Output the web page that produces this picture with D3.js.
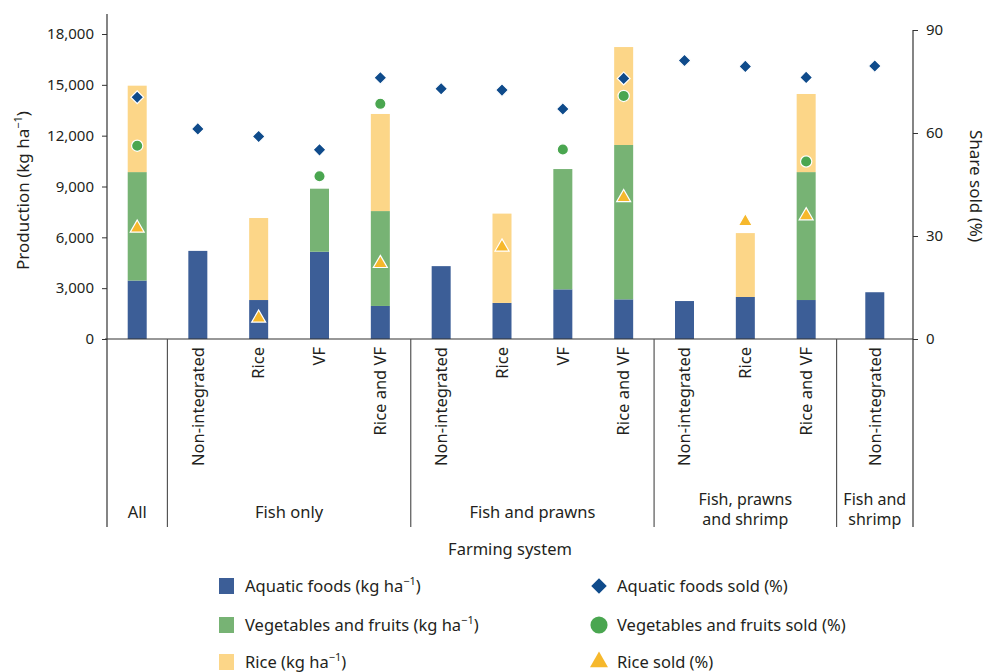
<!DOCTYPE html>
<html>
<head>
<meta charset="utf-8">
<script src="https://cdn.jsdelivr.net/npm/d3@7"></script>
<style>
  body { margin: 0; background: #fff; }
  svg { font-family: "Noto Sans", sans-serif; }
</style>
</head>
<body>
<svg width="987" height="672"></svg>
<script>
// group names (bottom row) and farming systems (rotated labels)
const groups = ['All', 'Fish only', 'Fish and prawns', 'Fish, prawns|and shrimp', 'Fish and|shrimp']
const systems = ['', 'Non-integrated', 'Rice', 'VF', 'Rice and VF',
  'Non-integrated', 'Rice', 'VF', 'Rice and VF',
  'Non-integrated', 'Rice', 'Rice and VF',
  'Non-integrated']
const groupOf = [0, 1, 1, 1, 1, 2, 2, 2, 2, 3, 3, 3, 4]

// production, kg per ha (stacked segments)
const aquatic = [3450, 5200, 2300, 5150, 1950, 4300, 2130, 2930, 2340, 2240, 2480, 2300, 2760]
const vegFruit = [6400, 0, 0, 3720, 5600, 0, 0, 7100, 9110, 0, 0, 7550, 0]
const rice = [5100, 0, 4840, 0, 5730, 0, 5270, 0, 5780, 0, 3770, 4610, 0]

// share sold, %
const aquaticSold = [70.4, 61.2, 59.0, 55.1, 76.1, 72.9, 72.5, 67.0, 75.9, 81.1, 79.4, 76.2, 79.5]
const vegSold = [56.3, null, null, 47.4, 68.5, null, null, 55.2, 70.8, null, null, 51.7, null]
const riceSold = [32.3, null, 6.1, null, 22.0, null, 26.8, null, 41.2, null, 34.2, 35.9, null]

const leftTicks = [0, 3000, 6000, 9000, 12000, 15000, 18000]
const rightTicks = [0, 30, 60, 90]

const colors = { aquatic: '#3c5e97', vegFruit: '#77b374', rice: '#fcd688' }
const markColors = { aquatic: '#0f4b8b', veg: '#4aa650', rice: '#f6b82c' }

const svg = d3.select('svg')
const textColor = '#231f20'

const ids = systems.map((s, i) => i)
const x = d3.scalePoint().domain(ids).range([137, 867])
const yL = d3.scaleLinear().domain([0, 18000]).range([339, 34])
const yR = d3.scaleLinear().domain([0, 90]).range([339, 30])

const axisLeftX = 107
const axisRightX = 913
const bottomY = 527

// group separators: midpoint between neighbouring bars of different groups
const seps = [axisLeftX]
for (let i = 1; i < ids.length; i++) {
  if (groupOf[i] !== groupOf[i - 1]) seps.push((x(i - 1) + x(i)) / 2)
}
seps.push(axisRightX)

// single-bar groups are centred in their cell
const counts = groups.map((g, gi) => groupOf.filter(d => d === gi).length)
const xPos = ids.map(i => {
  const g = groupOf[i]
  return counts[g] === 1 ? (seps[g] + seps[g + 1]) / 2 : x(i)
})

const table = ids.map(i => ({ i, aquatic: aquatic[i], vegFruit: vegFruit[i], rice: rice[i] }))
const stacked = d3.stack().keys(['aquatic', 'vegFruit', 'rice'])(table)

const barW = 19
svg.append('g')
  .selectAll('g')
  .data(stacked)
  .join('g')
  .attr('fill', d => colors[d.key])
  .selectAll('rect')
  .data(d => d.filter(p => p[1] - p[0] > 0))
  .join('rect')
  .attr('x', d => xPos[d.data.i] - barW / 2)
  .attr('width', barW)
  .attr('y', d => yL(d[1]))
  .attr('height', d => yL(d[0]) - yL(d[1]))

// axes
const gl = svg.append('g').attr('transform', `translate(${axisLeftX},0)`)
  .call(d3.axisLeft(yL).tickValues(leftTicks).tickFormat(d3.format(',')).tickSize(5).tickPadding(8))
gl.select('.domain').remove()
gl.selectAll('text').attr('font-size', 15).attr('fill', textColor).attr('font-family', '"Noto Sans", sans-serif')
gl.selectAll('line').attr('stroke', '#333')

const gr = svg.append('g').attr('transform', `translate(${axisRightX},0)`)
  .call(d3.axisRight(yR).tickValues(rightTicks).tickSize(5).tickPadding(8))
gr.select('.domain').remove()
gr.selectAll('text').attr('font-size', 15).attr('fill', textColor).attr('font-family', '"Noto Sans", sans-serif')
gr.selectAll('line').attr('stroke', '#333')

// axis lines and separators
svg.append('line').attr('x1', axisLeftX).attr('x2', axisLeftX).attr('y1', 14).attr('y2', bottomY)
  .attr('stroke', '#333').attr('stroke-width', 1.2)
svg.append('line').attr('x1', axisRightX).attr('x2', axisRightX).attr('y1', yR(90)).attr('y2', bottomY)
  .attr('stroke', '#333').attr('stroke-width', 1.2)
svg.append('line').attr('x1', axisLeftX - 2).attr('x2', axisRightX).attr('y1', yL(0)).attr('y2', yL(0))
  .attr('stroke', '#333').attr('stroke-width', 1.2)
svg.append('g').selectAll('line')
  .data(seps.slice(1, -1))
  .join('line')
  .attr('x1', d => d).attr('x2', d => d)
  .attr('y1', yL(0)).attr('y2', bottomY)
  .attr('stroke', '#555').attr('stroke-width', 1.2)

// rotated system labels
svg.append('g').selectAll('text')
  .data(ids.filter(i => systems[i] !== ''))
  .join('text')
  .attr('transform', i => `translate(${xPos[i]},347) rotate(-90)`)
  .attr('text-anchor', 'end')
  .attr('dy', '0.35em')
  .attr('font-size', 16.5)
  .attr('fill', textColor)
  .text(i => systems[i])

// group labels, one text per line
const groupLines = []
groups.forEach((g, gi) => {
  const lines = g.split('|')
  const cx = (seps[gi] + seps[gi + 1]) / 2
  lines.forEach((line, k) => {
    groupLines.push({ text: line, x: cx, y: lines.length > 1 ? 505 + k * 20 : 518, two: lines.length > 1 })
  })
})
svg.append('g').selectAll('text')
  .data(groupLines)
  .join('text')
  .attr('x', d => d.x)
  .attr('y', d => d.y)
  .attr('text-anchor', 'middle')
  .attr('font-size', d => d.two ? 16 : 16.5)
  .attr('fill', textColor)
  .text(d => d.text)

// markers
const sym = d3.symbol()
function drawMarks (values, type, size, color, rotate) {
  svg.append('g').selectAll('path')
    .data(ids.filter(i => values[i] != null))
    .join('path')
    .attr('d', sym.type(type).size(size)())
    .attr('transform', i => `translate(${xPos[i]},${yR(values[i])}) rotate(${rotate})`)
    .attr('fill', color)
    .attr('stroke', '#fff')
    .attr('stroke-width', 1.2)
}
drawMarks(aquaticSold, d3.symbolSquare, 82, markColors.aquatic, 45)
drawMarks(vegSold, d3.symbolCircle, 100, markColors.veg, 0)
drawMarks(riceSold, d3.symbolTriangle, 85, markColors.rice, 0)

// axis titles
svg.append('text')
  .attr('transform', `translate(23,${(yL(0) + yL(18000)) / 2 + 4}) rotate(-90)`)
  .attr('text-anchor', 'middle')
  .attr('dy', '0.35em')
  .attr('font-size', 17)
  .attr('fill', textColor)
  .call(t => {
    t.append('tspan').text('Production (kg ha')
    t.append('tspan').attr('font-size', 11).attr('dy', -7).text('\u22121')
    t.append('tspan').attr('dy', 7).text(')')
  })
svg.append('text')
  .attr('transform', `translate(976,186) rotate(90)`)
  .attr('text-anchor', 'middle')
  .attr('dy', '0.35em')
  .attr('font-size', 17)
  .attr('fill', textColor)
  .text('Share sold (%)')
svg.append('text')
  .attr('x', 510).attr('y', 555)
  .attr('text-anchor', 'middle')
  .attr('font-size', 16.5)
  .attr('fill', textColor)
  .text('Farming system')

// legend
const legendLeft = [
  { label: 'Aquatic foods (kg ha', color: colors.aquatic },
  { label: 'Vegetables and fruits (kg ha', color: colors.vegFruit },
  { label: 'Rice (kg ha', color: colors.rice }
]
const legendRight = [
  { label: 'Aquatic foods sold (%)', type: d3.symbolSquare, size: 120, rot: 45, color: markColors.aquatic },
  { label: 'Vegetables and fruits sold (%)', type: d3.symbolCircle, size: 230, rot: 0, color: markColors.veg },
  { label: 'Rice sold (%)', type: d3.symbolTriangle, size: 140, rot: 0, color: markColors.rice }
]
const rowY = [586, 625, 662]

const ll = svg.append('g').selectAll('g').data(legendLeft).join('g')
  .attr('transform', (d, k) => `translate(219,${rowY[k]})`)
ll.append('rect').attr('x', 0).attr('y', -8).attr('width', 15).attr('height', 16).attr('fill', d => d.color)
ll.append('text').attr('x', 26).attr('dy', '0.35em').attr('font-size', 16.5).attr('fill', textColor)
  .each(function (d) {
    const t = d3.select(this)
    t.append('tspan').text(d.label)
    t.append('tspan').attr('font-size', 11).attr('dy', -7).text('\u22121')
    t.append('tspan').attr('dy', 7).text(')')
  })

const lr = svg.append('g').selectAll('g').data(legendRight).join('g')
  .attr('transform', (d, k) => `translate(599,${rowY[k]})`)
lr.append('path')
  .attr('d', d => d3.symbol().type(d.type).size(d.size)())
  .attr('transform', d => `rotate(${d.rot})`)
  .attr('fill', d => d.color)
lr.append('text').attr('x', 18).attr('dy', '0.35em').attr('font-size', 16.5).attr('fill', textColor)
  .text(d => d.label)
</script>
</body>
</html>
